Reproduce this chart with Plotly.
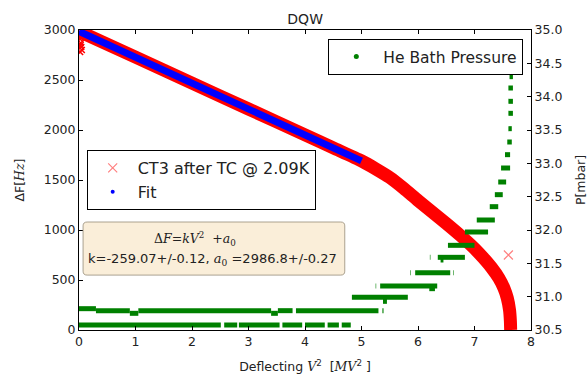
import numpy as np
import plotly.graph_objects as go

# ---- measured data -------------------------------------------------------
# Frequency shift vs deflecting voltage squared (centre line of the CT3 run)
v2_ct3 = [0.0, 1.0, 2.0, 3.0, 4.0, 4.5, 5.0, 5.25, 5.5, 5.75, 6.0, 6.25, 6.5,
          6.75, 7.0, 7.15, 7.3, 7.43, 7.52, 7.58, 7.62, 7.635, 7.64]
df_ct3 = [2987, 2728, 2469, 2210, 1951, 1821, 1691, 1612, 1525, 1415, 1295,
          1180, 1065, 945, 815, 725, 625, 520, 420, 320, 200, 90, 0]

# scattered points of the same run near zero field
v2_ct3_sc = [0.01, 0.02, 0.03, 0.04, 0.05, 0.02, 0.03]
df_ct3_sc = [2950, 2910, 2870, 2830, 2800, 2780, 2850]

# isolated outlier
v2_ct3_out = [7.6]
df_ct3_out = [750]

# linear fit dF = k V^2 + a0 over the low-field range
fit_k = -259.07
fit_a0 = 2986.8
fit_v2 = np.array([0.0, 5.0])

# He bath pressure plateaus: start V^2, end V^2, pressure [mbar]
p_x0 = [0.0, 2.57, 2.83, 3.6, 4.0, 4.4, 4.65,
        0.0, 0.3, 0.9, 1.05, 3.4, 3.52, 3.84, 5.37,
        4.83, 5.38,
        5.25, 5.33, 6.2,
        5.86, 5.95, 6.62,
        6.21, 6.35, 6.4,
        6.53, 6.83, 7.04, 7.27, 7.36, 7.42, 7.47, 7.54,
        7.58, 7.6, 7.6, 7.6, 7.6, 7.62, 7.6]
p_x1 = [2.51, 2.8, 3.55, 3.95, 4.35, 4.6, 4.81,
        0.3, 0.9, 1.05, 3.4, 3.52, 3.78, 5.3, 5.39,
        5.82, 5.45,
        5.26, 6.34, 6.3,
        5.87, 6.57, 6.63,
        6.22, 6.83, 6.45,
        7.0, 7.24, 7.36, 7.42, 7.5, 7.56, 7.63, 7.63,
        7.66, 7.66, 7.68, 7.68, 7.68, 7.68, 7.68]
p_mbar = [30.575, 30.575, 30.575, 30.575, 30.575, 30.575, 30.575,
          30.82, 30.79, 30.75, 30.79, 30.75, 30.79, 30.79, 30.79,
          30.99, 30.93,
          31.16, 31.16, 31.12,
          31.36, 31.36, 31.36,
          31.59, 31.59, 31.55,
          31.77, 31.97, 32.15, 32.35, 32.53, 32.72, 32.93, 33.13,
          33.32, 33.52, 33.75, 33.93, 34.13, 34.3, 34.45]

RED = "#ff0000"
PINK = "rgba(255,0,0,0.5)"
BLUE = "#0000ff"
GREEN = "#008000"
FONT = "DejaVu Sans"
SERIF = "DejaVu Serif"

fig = go.Figure()

# CT3 measurement: thick band of overlapping crosses
fig.add_trace(go.Scatter(
    x=v2_ct3, y=df_ct3, mode="lines",
    line=dict(color=RED, width=13, shape="spline", smoothing=0.6),
    showlegend=False, hoverinfo="skip"))
fig.add_trace(go.Scatter(
    x=v2_ct3_sc, y=df_ct3_sc, mode="markers",
    marker=dict(symbol="x-thin", size=6, color=RED,
                line=dict(color=RED, width=1.5)),
    showlegend=False, hoverinfo="skip"))
fig.add_trace(go.Scatter(
    x=v2_ct3_out, y=df_ct3_out, mode="markers",
    name="CT3 after TC @ 2.09K",
    marker=dict(symbol="x-thin", size=9, color=PINK,
                line=dict(color=PINK, width=1.2)),
    legend="legend"))

# Fit line
fit_df = fit_k * fit_v2 + fit_a0
fig.add_trace(go.Scatter(
    x=fit_v2, y=fit_df, mode="lines",
    line=dict(color=BLUE, width=7), showlegend=False, hoverinfo="skip"))
fig.add_trace(go.Scatter(
    x=[None], y=[None], mode="markers", name="Fit",
    marker=dict(symbol="circle", size=4, color=BLUE), legend="legend"))

# He bath pressure on the right axis
gx, gy = [], []
for a, b, p in zip(p_x0, p_x1, p_mbar):
    gx += [a, b, None]
    gy += [p, p, None]
fig.add_trace(go.Scatter(
    x=gx, y=gy, yaxis="y2", mode="lines",
    line=dict(color=GREEN, width=5), showlegend=False, hoverinfo="skip"))
fig.add_trace(go.Scatter(
    x=[None], y=[None], yaxis="y2", mode="markers", name="He Bath Pressure",
    marker=dict(symbol="circle", size=5, color=GREEN), legend="legend2"))

axis_common = dict(
    showgrid=False, zeroline=False, showline=True, linecolor="black",
    linewidth=1, ticks="inside", ticklen=4, tickcolor="black", automargin=False,
    tickfont=dict(family=FONT, size=12.5, color="#222222"))

fig.update_layout(
    width=588, height=376,
    margin=dict(l=79, r=57, t=30, b=46),
    paper_bgcolor="white", plot_bgcolor="white",
    font=dict(family=FONT, color="#222222"),
    title=dict(text="DQW", x=0.519, xanchor="center", y=1 - 19 / 376,
               yanchor="middle", font=dict(size=14, family=FONT)),
    xaxis=dict(range=[0, 8], dtick=1, mirror="ticks",
               title=dict(text=("Deflecting <span style=\"font-family:DejaVu Serif\"><i>V</i></span>"
                                "<sup>2</sup>  [<span style=\"font-family:DejaVu Serif\"><i>MV</i></span>"
                                "<sup>2</sup> ]"),
                          font=dict(size=12.5), standoff=14),
               **axis_common),
    yaxis=dict(range=[0, 3000], dtick=500,
               title=dict(text=("ΔF[<span style=\"font-family:DejaVu Serif\"><i>Hz</i></span>]"),
                          font=dict(size=12.5), standoff=16),
               **axis_common),
    yaxis2=dict(range=[30.5, 35.0], dtick=0.5, tickformat=".1f",
                overlaying="y", side="right",
                title=dict(text="P[mbar]", font=dict(size=12.5), standoff=14),
                **axis_common),
    legend=dict(x=0.017, y=0.6, xanchor="left", yanchor="top",
                bordercolor="black", borderwidth=1, bgcolor="white",
                font=dict(size=16, family=FONT), itemwidth=40,
                tracegroupgap=0),
    legend2=dict(x=0.983, y=0.97, xanchor="right", yanchor="top",
                 bordercolor="black", borderwidth=1, bgcolor="white",
                 font=dict(size=15.5, family=FONT), itemwidth=44),
)

# Fit result box with rounded corners
bx0, bx1, by0, by1 = 0.009, 0.588, 0.183, 0.36
rx, ry = 0.009, 0.013
path = (f"M {bx0+rx},{by0} L {bx1-rx},{by0} Q {bx1},{by0} {bx1},{by0+ry} "
        f"L {bx1},{by1-ry} Q {bx1},{by1} {bx1-rx},{by1} L {bx0+rx},{by1} "
        f"Q {bx0},{by1} {bx0},{by1-ry} L {bx0},{by0+ry} Q {bx0},{by0} {bx0+rx},{by0} Z")
fig.add_shape(type="path", path=path, xref="paper", yref="paper",
              fillcolor="rgba(245,222,179,0.5)",
              line=dict(color="rgba(150,140,120,0.8)", width=1), layer="above")

fig.add_annotation(
    xref="paper", yref="paper", x=0.257, y=0.304, xanchor="center", yanchor="middle",
    showarrow=False,
    text=("<span style=\"font-family:DejaVu Serif\">Δ<i>F</i>=<i>kV</i><sup>2</sup>"
          "  +<i>a</i><sub>0</sub></span>"),
    font=dict(size=12.5, family=SERIF, color="#222222"))
fig.add_annotation(
    xref="paper", yref="paper", x=0.295, y=0.234, xanchor="center", yanchor="middle",
    showarrow=False,
    text=(f"k={fit_k:.2f}+/-0.12, <span style=\"font-family:DejaVu Serif\"><i>a</i>"
          f"<sub>0</sub></span> ={fit_a0:.1f}+/-0.27"),
    font=dict(size=13, family=FONT, color="#222222"))

fig.write_html("out.html")
